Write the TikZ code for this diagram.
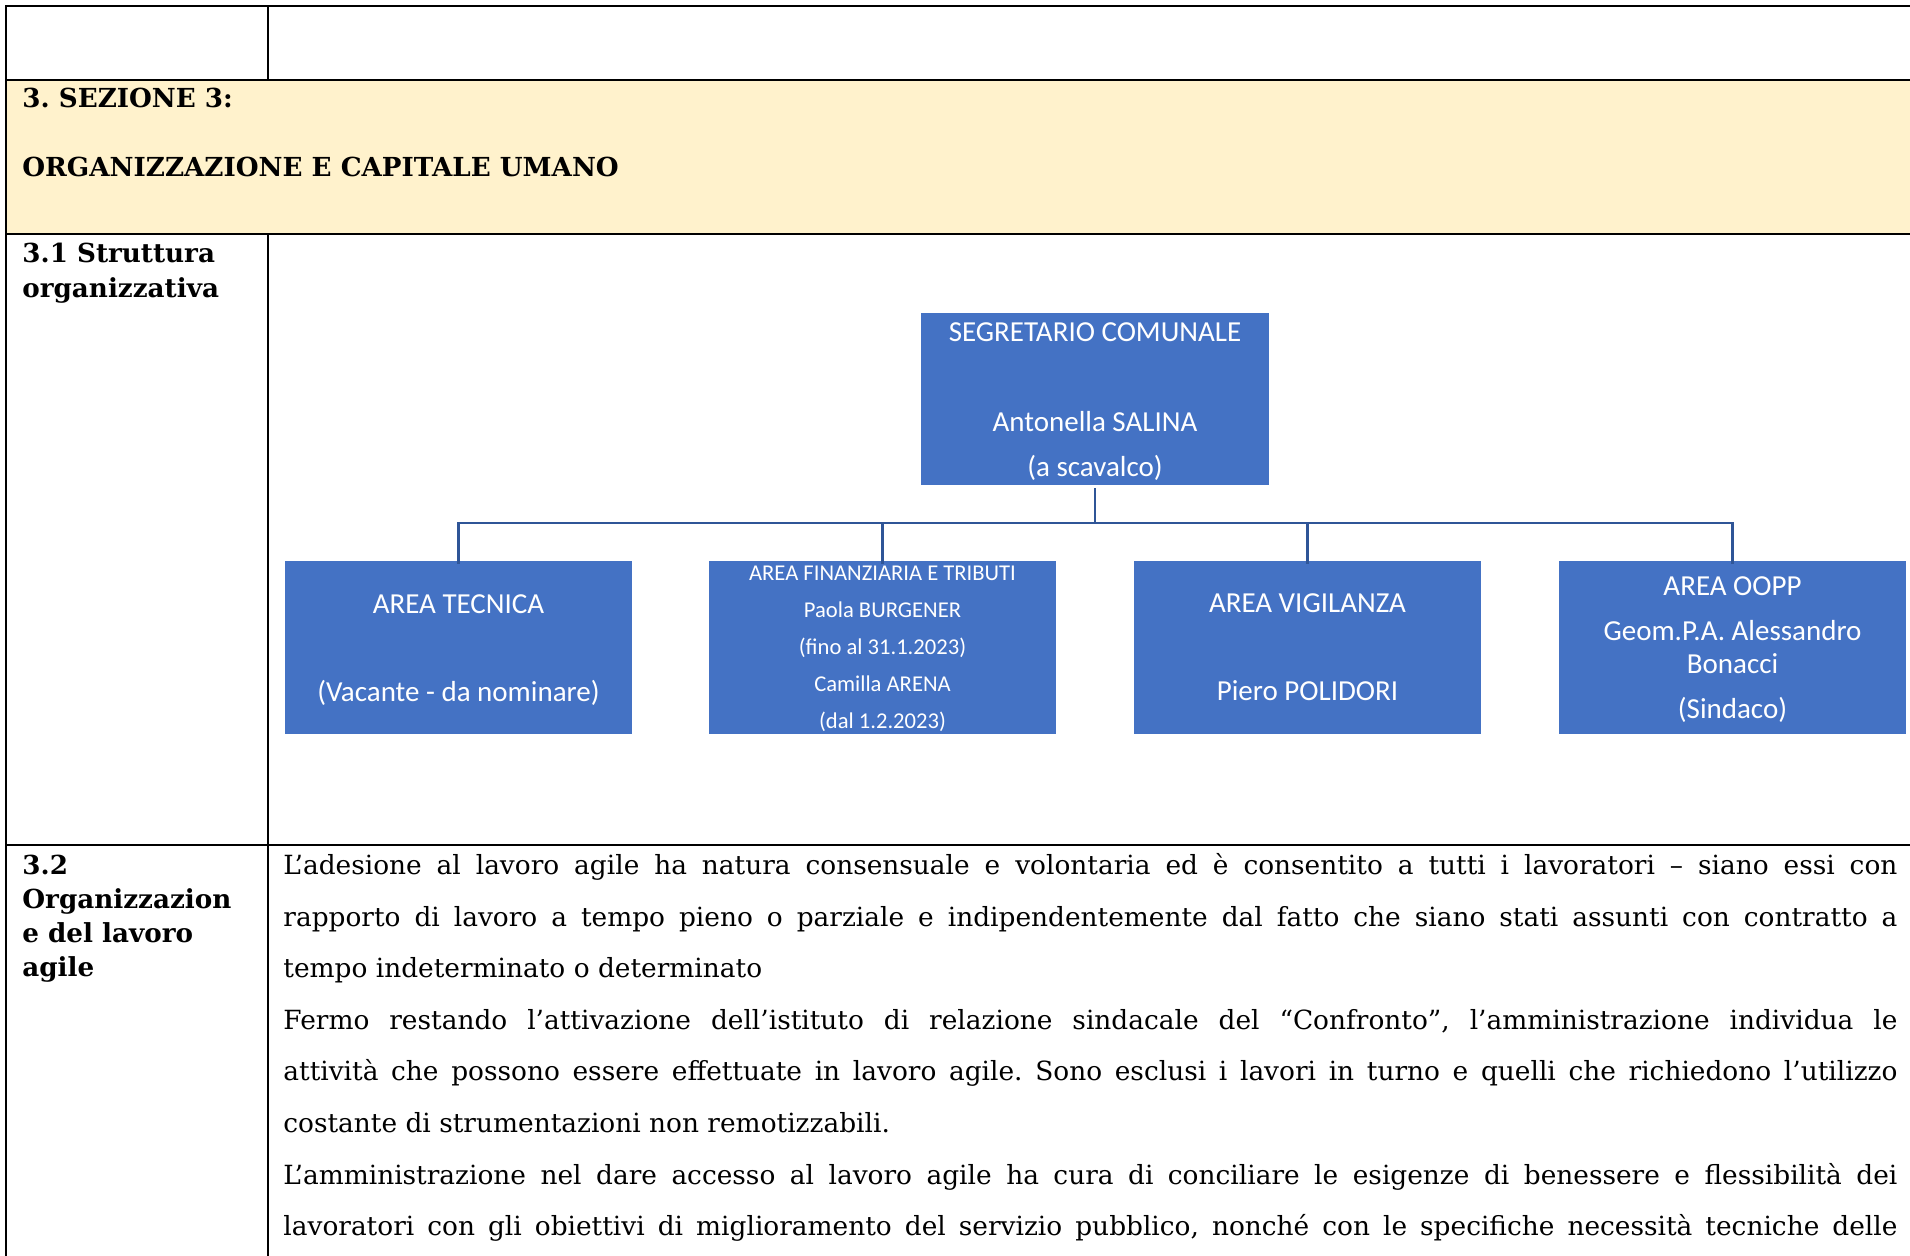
\documentclass[tikz,border=0pt]{standalone}
\usepackage{fontspec}
\usepackage{graphicx}
\setmainfont{DejaVu Serif}
\newfontfamily\boxfont{Carlito}
\newfontfamily\headfont{DejaVu Serif}
\newfontfamily\bodyfont{DejaVu Serif}
\definecolor{boxblue}{HTML}{4472C4}
\definecolor{connblue}{HTML}{2F5597}
\definecolor{hdryellow}{HTML}{FFF2CC}
\frenchspacing
\newlength\bodyw
\setlength\bodyw{807pt}
\newsavebox\jbox
\newcommand\jline[1]{{\spaceskip=0.16em plus 3em minus 0.04em\relax\sbox\jbox{#1}\ifdim\wd\jbox>\bodyw\scalebox{\fpeval{\the\bodyw/\the\wd\jbox}}[1]{#1}\else\makebox[\bodyw][s]{#1}\fi}}
\tikzset{
  grid/.style={line width=1.4pt, black},
  orgbox/.style={fill=boxblue, draw=none, minimum width=173.5pt, minimum height=86.5pt, inner sep=0pt},
  orgtext/.style={text=white, inner sep=0pt, align=center},
  conn/.style={line width=1.3pt, connblue},
  lbl/.style={anchor=base west, inner sep=0pt, font=\headfont\bfseries\fontsize{13.1pt}{15pt}\selectfont},
  bodyline/.style={anchor=base west, inner sep=0pt, font=\bodyfont\fontsize{13.2pt}{16pt}\selectfont}
}
\begin{document}
\begin{tikzpicture}[x=0.5pt,y=-0.5pt]
\useasboundingbox (0,0) rectangle (1910,1256);
\fill[white] (0,0) rectangle (1910,1256);
% yellow header row
\fill[hdryellow] (6,80) rectangle (1910,234);
% table grid
\draw[grid] (1910,6) -- (6,6) -- (6,1256);
\draw[grid] (6,80) -- (1910,80);
\draw[grid] (6,234) -- (1910,234);
\draw[grid] (6,845) -- (1910,845);
\draw[grid] (268,6) -- (268,80);
\draw[grid] (268,234) -- (268,1256);

% header texts
\node[lbl] (h1) at (22,108) {3. SEZIONE 3:};
\node[lbl] (h2) at (22,176.5) {ORGANIZZAZIONE E CAPITALE UMANO};
\node[lbl] (l1a) at (22,263) {3.1 Struttura};
\node[lbl] (l1b) at (22,297.5) {organizzativa};
\node[lbl] (l2a) at (22,874.5) {3.2};
\node[lbl] (l2b) at (22,908.5) {Organizzazion};
\node[lbl] (l2c) at (22,942.5) {e del lavoro};
\node[lbl] (l2d) at (22,976.5) {agile};

% org chart boxes
\node[orgbox, minimum width=174pt, minimum height=86pt] (seg) at (1095,399) {};
\node[orgbox] (a1) at (458.5,647.5) {};
\node[orgbox] (a2) at (882.5,647.5) {};
\node[orgbox] (a3) at (1307.5,647.5) {};
\node[orgbox] (a4) at (1732.5,647.5) {};
% box texts
\node[orgtext, font=\boxfont\fontsize{14.5pt}{22.5pt}\selectfont] (segt) at ([yshift=-1.25pt]seg.center)
  {SEGRETARIO COMUNALE\\[22.5pt] Antonella SALINA\\ (a scavalco)};
\node[orgtext, font=\boxfont\fontsize{14.5pt}{22pt}\selectfont] (a1t) at ([yshift=-1.25pt]a1.center)
  {AREA TECNICA\\[22pt] (Vacante - da nominare)};
\node[orgtext, font=\boxfont\fontsize{11.3pt}{18.5pt}\selectfont] (a2t) at ([yshift=-0.6pt]a2.center)
  {AREA FINANZIARIA E TRIBUTI\\ Paola BURGENER\\ (fino al 31.1.2023)\\ Camilla ARENA\\ (dal 1.2.2023)};
\node[orgtext, font=\boxfont\fontsize{14.5pt}{22pt}\selectfont] (a3t) at (a3.center)
  {AREA VIGILANZA\\[22pt] Piero POLIDORI};
\node[orgtext, font=\boxfont\fontsize{14.5pt}{16.5pt}\selectfont] (a4t) at ([yshift=-1.25pt]a4.center)
  {AREA OOPP\\[6pt] Geom.P.A. Alessandro\\ Bonacci\\[6pt] (Sindaco)};
% connectors
\coordinate (bus) at (1095,523);
\draw[conn] (seg.south) ++(0,3) -- (bus);
\draw[conn] ([yshift=-1.5pt]a1.north) |- (bus) -| ([yshift=-1.5pt]a4.north);
\draw[conn] ([yshift=-1.5pt]a2.north) -- (a2.north |- bus);
\draw[conn] ([yshift=-1.5pt]a3.north) -- (a3.north |- bus);

% body text
\node[bodyline] (b1) at (283,874.5) {\jline{L’adesione al lavoro agile ha natura consensuale e volontaria ed è consentito a tutti i lavoratori – siano essi con}};
\node[bodyline] (b2) at (283,926.1) {\jline{rapporto di lavoro a tempo pieno o parziale e indipendentemente dal fatto che siano stati assunti con contratto a}};
\node[bodyline] (b3) at (283,977.7) {tempo indeterminato o determinato};
\node[bodyline] (b4) at (283,1029.3) {\jline{Fermo restando l’attivazione dell’istituto di relazione sindacale del “Confronto”, l’amministrazione individua le}};
\node[bodyline] (b5) at (283,1080.9) {\jline{attività che possono essere effettuate in lavoro agile. Sono esclusi i lavori in turno e quelli che richiedono l’utilizzo}};
\node[bodyline] (b6) at (283,1132.5) {costante di strumentazioni non remotizzabili.};
\node[bodyline] (b7) at (283,1184.1) {\jline{L’amministrazione nel dare accesso al lavoro agile ha cura di conciliare le esigenze di benessere e flessibilità dei}};
\node[bodyline] (b8) at (283,1235.7) {\jline{lavoratori con gli obiettivi di miglioramento del servizio pubblico, nonché con le specifiche necessità tecniche delle}};
\end{tikzpicture}
\end{document}
